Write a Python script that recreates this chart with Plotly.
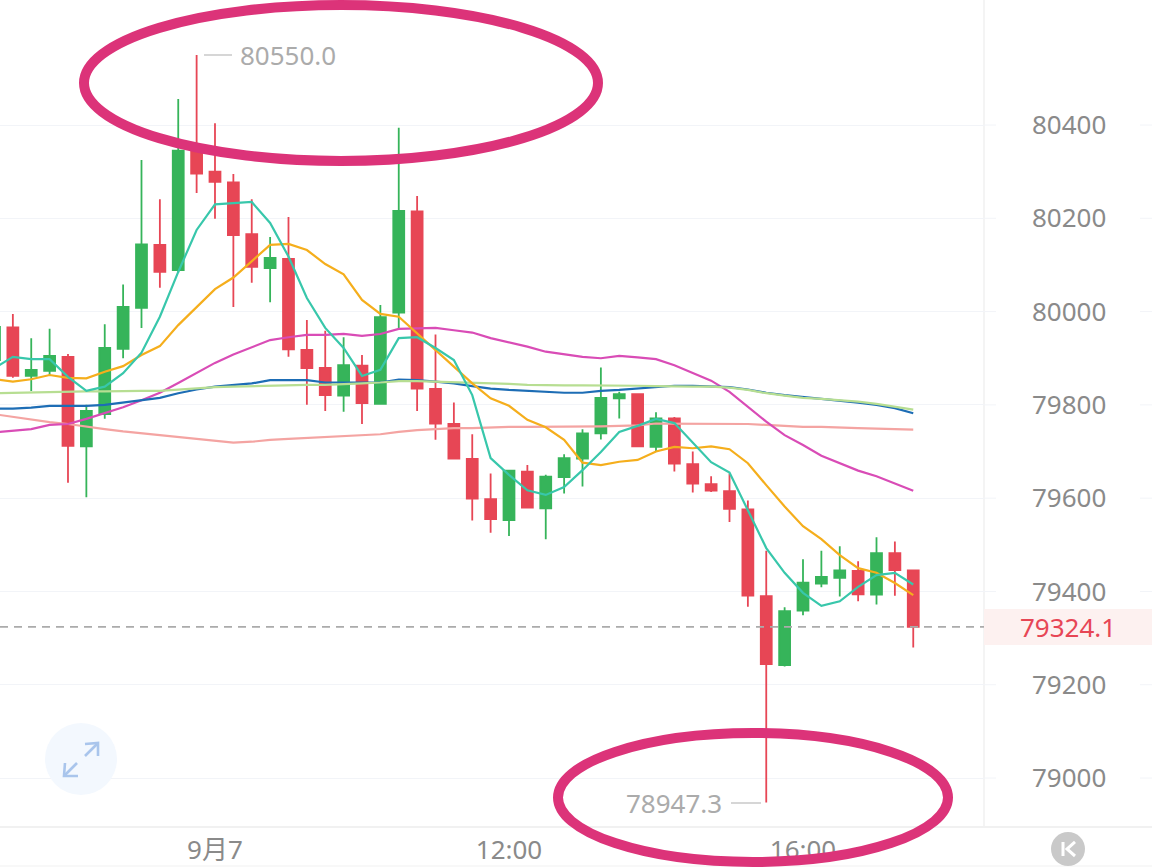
import plotly.graph_objects as go

W, H = 1152, 867
candle_x = list(range(-12, 39))
open_ = [79896,79966,79862,79873,79903,79711,79780,79920,80008,80143,80089,80345,80300,80277,80166,80093,80113,79918,79879,79820,79884,79802,79998,80215,79834,79759,79684,79598,79553,79657,79578,79645,79685,79739,79814,79823,79710,79771,79673,79630,79615,79576,79390,79242,79359,79417,79429,79444,79393,79482,79445]
high_ = [79975,79995,79943,79963,79909,79800,79973,80058,80325,80241,80456,80550.0,80404,80295,80241,80160,80203,79982,79959,79945,79907,80014,80394,80248,79951,79805,79737,79653,79659,79671,79650,79694,79748,79880,79828,79825,79784,79774,79700,79647,79653,79595,79487,79366,79469,79487,79497,79465,79516,79507,79446]
low_ = [79890,79858,79830,79864,79633,79602,79770,79900,79965,80051,80083,80254,80199,80010,80062,80020,79903,79800,79787,79785,79759,79802,79965,79787,79725,79684,79552,79526,79519,79580,79512,79610,79625,79726,79771,79711,79701,79657,79612,79613,79549,79367,78947.3,79239,79349,79409,79389,79379,79372,79391,79280]
close_ = [79967,79862,79875,79905,79712,79787,79922,80010,80144,80085,80345,80296,80278,80164,80096,80115,79919,79879,79821,79885,79804,79988,80216,79835,79760,79685,79599,79555,79659,79580,79646,79686,79739,79815,79823,79711,79771,79674,79631,79616,79577,79391,79244,79358,79419,79431,79445,79394,79482,79446,79324.1]

ma_teal = [79879,79903,79898,79898,79860,79830,79839,79868,79912,79989,80085,80175,80230,80232,80235,80190,80118,80029,79965,79922,79862,79875,79943,79945,79922,79896,79821,79686,79650,79617,79607,79624,79660,79699,79742,79755,79770,79761,79718,79677,79655,79575,79493,79440,79397,79369,79379,79410,79435,79440,79415]
ma_orange = [79855,79850,79855,79864,79858,79857,79871,79883,79907,79926,79971,80010,80048,80073,80107,80143,80145,80132,80102,80080,80025,79995,79989,79954,79918,79882,79846,79814,79798,79768,79752,79725,79676,79671,79678,79682,79700,79710,79707,79711,79705,79675,79628,79582,79540,79512,79478,79450,79440,79418,79392]
ma_magenta = [79741,79744,79748,79757,79759,79770,79783,79795,79810,79826,79847,79868,79890,79908,79923,79939,79945,79950,79950,79952,79948,79952,79963,79964,79965,79960,79955,79943,79934,79925,79914,79908,79903,79900,79905,79902,79898,79885,79868,79852,79828,79796,79764,79735,79714,79691,79675,79659,79647,79632,79616]
ma_blue = [79792,79792,79794,79798,79798,79798,79800,79805,79810,79815,79825,79833,79839,79843,79846,79853,79853,79853,79848,79848,79848,79848,79854,79853,79850,79846,79840,79835,79832,79830,79828,79826,79826,79830,79832,79835,79839,79841,79841,79839,79838,79833,79826,79821,79817,79814,79810,79805,79800,79793,79782]
ma_lime = [79825,79826,79827,79828,79828,79829,79829,79830,79830,79830,79833,79835,79838,79839,79840,79842,79843,79843,79843,79844,79846,79848,79851,79851,79850,79849,79848,79846,79845,79843,79842,79842,79842,79842,79842,79841,79840,79839,79839,79839,79837,79832,79825,79820,79815,79813,79810,79807,79802,79796,79790]
ma_salmon = [79780,79774,79768,79763,79759,79753,79748,79743,79739,79735,79732,79727,79723,79719,79721,79725,79727,79729,79731,79733,79735,79737,79742,79746,79748,79750,79750,79752,79753,79753,79753,79754,79754,79754,79755,79756,79760,79760,79760,79760,79759,79759,79757,79755,79753,79753,79751,79750,79749,79748,79747]

y_ticks = [79000, 79200, 79400, 79600, 79800, 80000, 80200, 80400]
x_tick_pos = [0, 16, 32]
x_tick_text = ["9月7", "12:00", "16:00"]
last_price = 79324.1
max_price = 80550.0
min_price = 78947.3

UP, DOWN = "#36b45a", "#e74655"
GRID = "#f2f4f8"
SEP = "#f1f1f1"
FONT = "Noto Sans, Noto Sans CJK SC, sans-serif"
PINK = "#dc3379"


def px(x):
    return x / W


def py(y):
    return 1 - y / H


def pshape(kind, x0, y0, x1, y1, **kw):
    return dict(type=kind, xref="paper", yref="paper", x0=px(x0), y0=py(y0), x1=px(x1), y1=py(y1), **kw)


def ppath(points, **kw):
    d = "M" + " L".join(f"{px(a):.5f},{py(b):.5f}" for a, b in points)
    return dict(type="path", xref="paper", yref="paper", path=d, **kw)


fig = go.Figure()
fig.add_trace(go.Candlestick(
    x=candle_x, open=open_, high=high_, low=low_, close=close_,
    increasing=dict(line=dict(color=UP, width=1.8), fillcolor=UP),
    decreasing=dict(line=dict(color=DOWN, width=1.8), fillcolor=DOWN),
    whiskerwidth=0, showlegend=False, hoverinfo="skip",
))
for vals, col, lw in [
    (ma_salmon, "#f4a4a2", 2.2), (ma_magenta, "#d94cb6", 2.2), (ma_blue, "#1d6db5", 2.2),
    (ma_lime, "#b7de92", 2.2), (ma_orange, "#f5ae1c", 2.2), (ma_teal, "#38c7ab", 2.2),
]:
    fig.add_trace(go.Scatter(x=candle_x, y=vals, mode="lines", line=dict(color=col, width=lw),
                             showlegend=False, hoverinfo="skip"))

shapes = [
    # separators
    pshape("line", 0, 827, W, 827, line=dict(color=SEP, width=2), layer="below"),
    pshape("line", 0, 866, W, 866, line=dict(color=SEP, width=1), layer="below"),
    pshape("line", 984, 0, 984, 827, line=dict(color=SEP, width=1.5), layer="below"),
    # last price band and line
    pshape("rect", 984, 609, W, 645, fillcolor="#fdf1f0", line=dict(width=0), layer="below"),
    dict(type="line", xref="paper", yref="y", x0=0, x1=px(984), y0=last_price, y1=last_price,
         line=dict(color="#ababab", width=1.6, dash="8px,6px")),
    # high and low connectors
    pshape("line", 204, 55, 232, 55, line=dict(color="#c9c9c9", width=1.5)),
    pshape("line", 731, 803, 761, 803, line=dict(color="#c9c9c9", width=1.5)),
    # expand icon
    pshape("circle", 45, 723, 117, 795, fillcolor="#f3f8fe", line=dict(width=0)),
    ppath([(85, 756), (97, 744)], line=dict(color="#a9c5ec", width=2.6)),
    ppath([(85, 744), (98, 743), (98, 756)], line=dict(color="#a9c5ec", width=2.6)),
    ppath([(65, 775), (77, 763)], line=dict(color="#a9c5ec", width=2.6)),
    ppath([(65, 763), (64, 776), (78, 776)], line=dict(color="#a9c5ec", width=2.6)),
    # collapse button
    pshape("circle", 1051, 832, 1085, 866, fillcolor="#c9c9c9", line=dict(width=0)),
    ppath([(1063, 842), (1063, 856)], line=dict(color="#ffffff", width=3)),
    ppath([(1075, 842), (1067, 849), (1075, 856)], line=dict(color="#ffffff", width=3)),
    # hand-drawn ellipses
    pshape("circle", 84, 5, 598, 161, line=dict(color=PINK, width=10), fillcolor="rgba(0,0,0,0)"),
    pshape("circle", 558, 733, 948, 862, line=dict(color=PINK, width=10), fillcolor="rgba(0,0,0,0)"),
]
for t in y_ticks:
    for a, b in [(984, 996), (1140, W)]:
        shapes.append(dict(type="line", xref="paper", yref="y", x0=px(a), x1=px(b), y0=t, y1=t,
                           line=dict(color=GRID, width=1), layer="below"))

annotations = [
    dict(xref="paper", yref="y", x=px(1068), y=last_price, text=f"{last_price}", showarrow=False,
         font=dict(family=FONT, size=26, color="#e74655"), xanchor="center", yanchor="middle"),
    dict(xref="paper", yref="y", x=px(238), y=max_price, text=f"{max_price}", showarrow=False,
         font=dict(family=FONT, size=26, color="#ababab"), xanchor="left", yanchor="middle"),
    dict(xref="paper", yref="y", x=px(724), y=min_price, text=f"{min_price}", showarrow=False,
         font=dict(family=FONT, size=26, color="#ababab"), xanchor="right", yanchor="middle"),
]

fig.update_layout(
    width=W, height=H, margin=dict(l=0, r=0, t=0, b=0), boxgap=0.15,
    paper_bgcolor="#ffffff", plot_bgcolor="#ffffff",
    shapes=shapes, annotations=annotations, showlegend=False, hovermode=False,
    xaxis=dict(domain=[0, 984 / W], range=[-11.70, 41.85], rangeslider=dict(visible=False),
               tickmode="array", tickvals=x_tick_pos, ticktext=x_tick_text, showgrid=False,
               zeroline=False, showline=False, ticks="", ticklabelstandoff=5,
               tickfont=dict(family=FONT, size=26, color="#8a8a8a")),
    yaxis=dict(domain=[(H - 827) / H, 1], range=[78895, 80668], side="right", tickmode="array",
               tickvals=y_ticks, ticktext=[str(t) for t in y_ticks], showgrid=True, gridcolor=GRID,
               gridwidth=1, zeroline=False, showline=False, ticks="", ticklabelstandoff=47,
               tickfont=dict(family=FONT, size=26, color="#8a8a8a")),
)
fig.write_html("out.html", config=dict(displayModeBar=False),
               post_script="document.body.style.margin='0';document.body.style.overflow='hidden';")
